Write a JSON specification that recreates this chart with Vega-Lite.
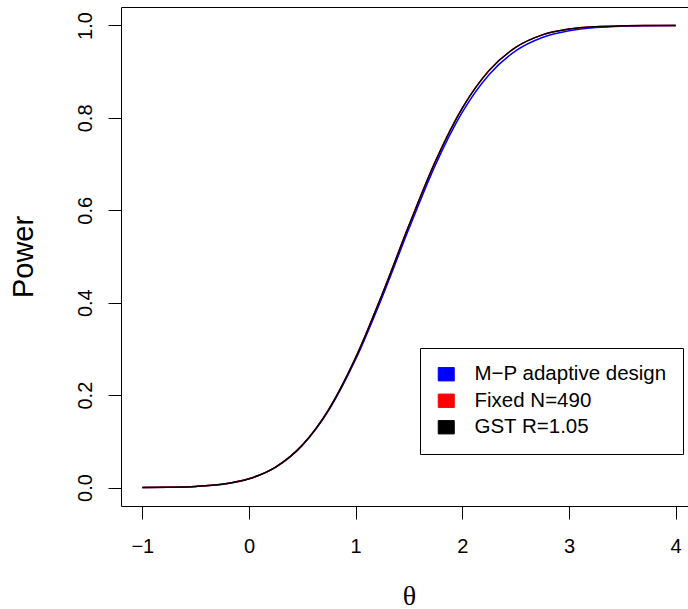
{
  "$schema": "https://vega.github.io/schema/vega-lite/v6.json",
  "width": 576,
  "height": 499,
  "autosize": {"type": "none"},
  "padding": {"left": 121, "top": 7, "right": 0, "bottom": 103},
  "background": "white",
  "config": {
    "view": {"stroke": "black", "strokeWidth": 1},
    "axis": {"grid": false, "domain": false, "tickColor": "black", "tickSize": 13, "tickWidth": 1, "labelColor": "black", "labelFont": "Liberation Sans", "labelFontSize": 20, "titleColor": "black", "titleFontWeight": "normal"},
    "legend": {"orient": "none", "legendX": 299, "legendY": 341, "strokeColor": "black", "strokeWidth": 1, "padding": 16, "symbolType": "M-1.2,-1H1.2V1H-1.2Z", "symbolSize": 178, "symbolStrokeColor": "black", "symbolStrokeWidth": 1, "labelFont": "Liberation Sans", "labelFontSize": 20.5, "labelColor": "black", "labelOffset": 18, "rowPadding": 5.5, "labelLimit": 400}
  },
  "data": {"values": [
    {"theta": -1.0, "power": 0.0002, "series": "M−P adaptive design"},
    {"theta": -0.75, "power": 0.0007, "series": "M−P adaptive design"},
    {"theta": -0.5, "power": 0.0023, "series": "M−P adaptive design"},
    {"theta": -0.25, "power": 0.0070, "series": "M−P adaptive design"},
    {"theta": 0.0, "power": 0.0188, "series": "M−P adaptive design"},
    {"theta": 0.25, "power": 0.0440, "series": "M−P adaptive design"},
    {"theta": 0.5, "power": 0.0912, "series": "M−P adaptive design"},
    {"theta": 0.75, "power": 0.1680, "series": "M−P adaptive design"},
    {"theta": 1.0, "power": 0.2775, "series": "M−P adaptive design"},
    {"theta": 1.25, "power": 0.4130, "series": "M−P adaptive design"},
    {"theta": 1.5, "power": 0.5605, "series": "M−P adaptive design"},
    {"theta": 1.75, "power": 0.6995, "series": "M−P adaptive design"},
    {"theta": 2.0, "power": 0.8125, "series": "M−P adaptive design"},
    {"theta": 2.25, "power": 0.8935, "series": "M−P adaptive design"},
    {"theta": 2.5, "power": 0.9450, "series": "M−P adaptive design"},
    {"theta": 2.75, "power": 0.9740, "series": "M−P adaptive design"},
    {"theta": 3.0, "power": 0.9885, "series": "M−P adaptive design"},
    {"theta": 3.25, "power": 0.9955, "series": "M−P adaptive design"},
    {"theta": 3.5, "power": 0.9986, "series": "M−P adaptive design"},
    {"theta": 3.75, "power": 0.9996, "series": "M−P adaptive design"},
    {"theta": 4.0, "power": 1.0, "series": "M−P adaptive design"},
    {"theta": -1.0, "power": 0.0002, "series": "Fixed N=490"},
    {"theta": -0.75, "power": 0.0007, "series": "Fixed N=490"},
    {"theta": -0.5, "power": 0.0023, "series": "Fixed N=490"},
    {"theta": -0.25, "power": 0.0070, "series": "Fixed N=490"},
    {"theta": 0.0, "power": 0.0189, "series": "Fixed N=490"},
    {"theta": 0.25, "power": 0.0442, "series": "Fixed N=490"},
    {"theta": 0.5, "power": 0.0920, "series": "Fixed N=490"},
    {"theta": 0.75, "power": 0.1702, "series": "Fixed N=490"},
    {"theta": 1.0, "power": 0.2815, "series": "Fixed N=490"},
    {"theta": 1.25, "power": 0.4195, "series": "Fixed N=490"},
    {"theta": 1.5, "power": 0.5680, "series": "Fixed N=490"},
    {"theta": 1.75, "power": 0.7075, "series": "Fixed N=490"},
    {"theta": 2.0, "power": 0.8215, "series": "Fixed N=490"},
    {"theta": 2.25, "power": 0.9025, "series": "Fixed N=490"},
    {"theta": 2.5, "power": 0.9526, "series": "Fixed N=490"},
    {"theta": 2.75, "power": 0.9797, "series": "Fixed N=490"},
    {"theta": 3.0, "power": 0.9922, "series": "Fixed N=490"},
    {"theta": 3.25, "power": 0.9974, "series": "Fixed N=490"},
    {"theta": 3.5, "power": 0.9992, "series": "Fixed N=490"},
    {"theta": 3.75, "power": 0.9998, "series": "Fixed N=490"},
    {"theta": 4.0, "power": 1.0, "series": "Fixed N=490"},
    {"theta": -1.0, "power": 0.0002, "series": "GST R=1.05"},
    {"theta": -0.75, "power": 0.0007, "series": "GST R=1.05"},
    {"theta": -0.5, "power": 0.0023, "series": "GST R=1.05"},
    {"theta": -0.25, "power": 0.0070, "series": "GST R=1.05"},
    {"theta": 0.0, "power": 0.0188, "series": "GST R=1.05"},
    {"theta": 0.25, "power": 0.0441, "series": "GST R=1.05"},
    {"theta": 0.5, "power": 0.0918, "series": "GST R=1.05"},
    {"theta": 0.75, "power": 0.1698, "series": "GST R=1.05"},
    {"theta": 1.0, "power": 0.2810, "series": "GST R=1.05"},
    {"theta": 1.25, "power": 0.4188, "series": "GST R=1.05"},
    {"theta": 1.5, "power": 0.5675, "series": "GST R=1.05"},
    {"theta": 1.75, "power": 0.7071, "series": "GST R=1.05"},
    {"theta": 2.0, "power": 0.8212, "series": "GST R=1.05"},
    {"theta": 2.25, "power": 0.9023, "series": "GST R=1.05"},
    {"theta": 2.5, "power": 0.9525, "series": "GST R=1.05"},
    {"theta": 2.75, "power": 0.9796, "series": "GST R=1.05"},
    {"theta": 3.0, "power": 0.9922, "series": "GST R=1.05"},
    {"theta": 3.25, "power": 0.9974, "series": "GST R=1.05"},
    {"theta": 3.5, "power": 0.9992, "series": "GST R=1.05"},
    {"theta": 3.75, "power": 0.9998, "series": "GST R=1.05"},
    {"theta": 4.0, "power": 1.0, "series": "GST R=1.05"}
  ]},
  "mark": {"type": "line", "strokeWidth": 1.5, "interpolate": "monotone"},
  "encoding": {
    "x": {"field": "theta", "type": "quantitative",
      "scale": {"domain": [-1.2, 4.2], "nice": false, "zero": false},
      "axis": {"values": [-1, 0, 1, 2, 3, 4], "format": "d", "labelPadding": 17, "labelFlush": false,
        "title": "θ", "titleFont": "Liberation Serif", "titleFontSize": 28, "titleX": 288, "titleY": 90, "titleBaseline": "middle", "titleAlign": "center"}},
    "y": {"field": "power", "type": "quantitative",
      "scale": {"domain": [-0.04, 1.04], "nice": false, "zero": false},
      "axis": {"values": [0, 0.2, 0.4, 0.6, 0.8, 1.0], "format": ".1f", "labelAngle": -90, "labelAlign": "center", "labelBaseline": "alphabetic", "labelPadding": 17, "labelFlush": false,
        "title": "Power", "titleFont": "Liberation Sans", "titleFontSize": 29, "titleAngle": -90, "titleX": -89, "titleY": 249.5, "titleBaseline": "alphabetic", "titleAlign": "center"}},
    "color": {"field": "series", "type": "nominal",
      "scale": {"domain": ["M−P adaptive design", "Fixed N=490", "GST R=1.05"], "range": ["#0000FF", "#FF0000", "#000000"]},
      "legend": {"title": null,
        "encode": {"symbols": {"update": {"fill": {"scale": "color", "field": "value"}, "stroke": {"value": "black"}, "strokeWidth": {"value": 1}}}}}}
  }
}
